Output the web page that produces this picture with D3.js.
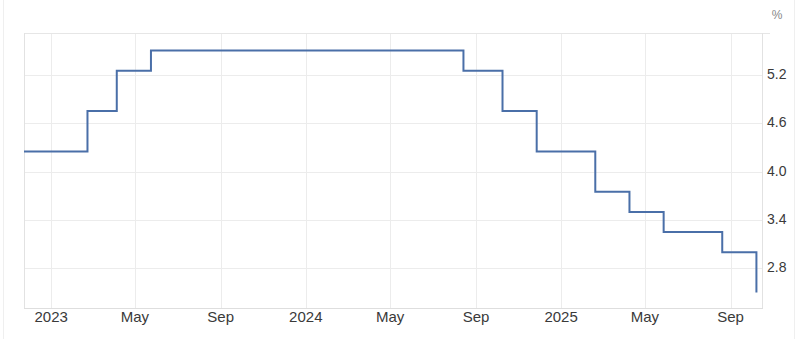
<!DOCTYPE html>
<html>
<head>
<meta charset="utf-8">
<script src="https://cdn.jsdelivr.net/npm/d3@7"></script>
<style>
  body { margin: 0; background: #fff; }
  text { font-family: "Liberation Sans", Arial, sans-serif; }
</style>
</head>
<body>
<script>
// policy rate changes (date of decision, level in %)
let rateDates = ["2022-11-23", "2023-02-22", "2023-04-05", "2023-05-24", "2024-08-14", "2024-10-09",
                 "2024-11-27", "2025-02-19", "2025-04-09", "2025-05-28", "2025-08-20", "2025-10-08"];
let rateValues = [4.25, 4.75, 5.25, 5.5, 5.25, 4.75, 4.25, 3.75, 3.5, 3.25, 3.0, 2.5];

let xTickDates = ["2023-01-01", "2023-05-01", "2023-09-01", "2024-01-01", "2024-05-01",
                  "2024-09-01", "2025-01-01", "2025-05-01", "2025-09-01"];
let xTickLabels = ["2023", "May", "Sep", "2024", "May", "Sep", "2025", "May", "Sep"];
let yTicks = [2.8, 3.4, 4.0, 4.6, 5.2];

let width = 800, height = 339;
let plotLeft = 24, plotRight = 762, plotTop = 33, plotBottom = 308;

let parse = d3.timeParse("%Y-%m-%d");
let data = rateDates.map(function(d, i) { return {date: parse(d), value: rateValues[i]}; });

let x = d3.scaleTime()
  .domain([parse("2022-11-23"), parse("2025-10-16")])
  .range([plotLeft, plotRight]);

let y = d3.scaleLinear()
  .domain([2.309, 5.717])
  .range([plotBottom, plotTop]);

let svg = d3.select("body").append("svg").attr("width", width).attr("height", height);

// outer frame lines
svg.append("line").attr("x1", 3.5).attr("x2", 3.5).attr("y1", 0).attr("y2", height)
  .attr("stroke", "#efefef");
svg.append("line").attr("x1", 794.5).attr("x2", 794.5).attr("y1", 0).attr("y2", height)
  .attr("stroke", "#efefef");

// horizontal grid
svg.selectAll("line.hgrid")
  .data(yTicks)
  .enter().append("line")
    .attr("class", "hgrid")
    .attr("x1", plotLeft)
    .attr("x2", plotRight)
    .attr("y1", function(d) { return Math.round(y(d)) + 0.5; })
    .attr("y2", function(d) { return Math.round(y(d)) + 0.5; })
    .attr("stroke", "#ececec");

// vertical grid
svg.selectAll("line.vgrid")
  .data(xTickDates)
  .enter().append("line")
    .attr("class", "vgrid")
    .attr("x1", function(d) { return Math.round(x(parse(d))) + 0.5; })
    .attr("x2", function(d) { return Math.round(x(parse(d))) + 0.5; })
    .attr("y1", plotTop)
    .attr("y2", plotBottom)
    .attr("stroke", "#ececec");

// plot border
svg.append("line").attr("x1", plotLeft).attr("x2", 770).attr("y1", plotTop + 0.5).attr("y2", plotTop + 0.5)
  .attr("stroke", "#e6e6e6");
svg.append("line").attr("x1", plotLeft + 0.5).attr("x2", plotLeft + 0.5).attr("y1", plotTop).attr("y2", plotBottom)
  .attr("stroke", "#e2e2e2");
svg.append("line").attr("x1", plotRight + 0.5).attr("x2", plotRight + 0.5).attr("y1", plotTop).attr("y2", plotBottom)
  .attr("stroke", "#e2e2e2");
svg.append("line").attr("x1", plotLeft).attr("x2", plotRight + 1).attr("y1", plotBottom + 0.5).attr("y2", plotBottom + 0.5)
  .attr("stroke", "#dedede");

// x labels
svg.selectAll("text.xlab")
  .data(xTickDates)
  .enter().append("text")
    .attr("class", "xlab")
    .attr("x", function(d) { return x(parse(d)); })
    .attr("y", 322)
    .attr("text-anchor", "middle")
    .attr("font-size", "15px")
    .attr("fill", "#3a3a3a")
    .text(function(d, i) { return xTickLabels[i]; });

// y labels
svg.selectAll("text.ylab")
  .data(yTicks)
  .enter().append("text")
    .attr("class", "ylab")
    .attr("x", 767)
    .attr("y", function(d) { return y(d) + 4; })
    .attr("font-size", "14px")
    .attr("fill", "#3a3a3a")
    .text(function(d) { return d.toFixed(1); });

svg.append("text")
  .attr("x", 777)
  .attr("y", 19)
  .attr("text-anchor", "middle")
  .attr("font-size", "12px")
  .attr("fill", "#888")
  .text("%");

// rate line
let line = d3.line()
  .x(function(d) { return x(d.date); })
  .y(function(d) { return y(d.value); })
  .curve(d3.curveStepAfter);

svg.append("path")
  .datum(data)
  .attr("fill", "none")
  .attr("stroke", "#4a6fa8")
  .attr("stroke-width", 2)
  .attr("d", line);
</script>
</body>
</html>
